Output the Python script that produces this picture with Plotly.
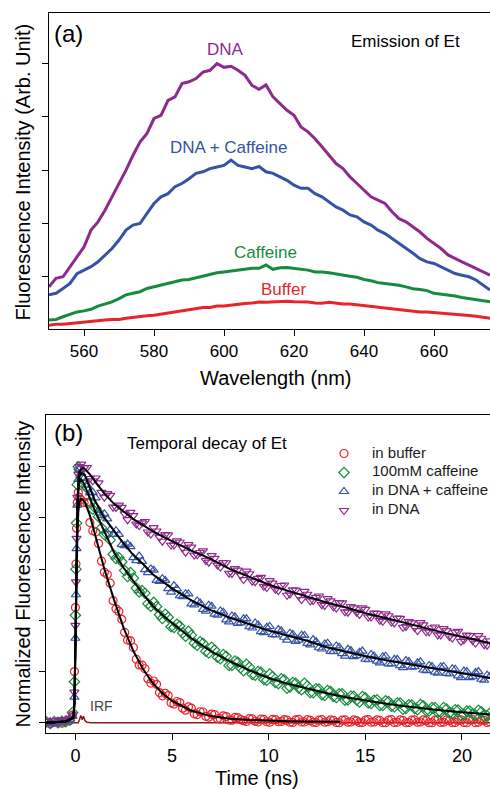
import plotly.graph_objects as go

# ---------------- (a) emission spectra ----------------
WL = list(range(550, 678, 2))  # nm
SPEC_DNA = [0.81, 0.97, 1.0, 1.19, 1.375, 1.56, 1.875, 2.03, 2.25, 2.5, 2.72, 3.0, 3.28, 3.53,
            3.69, 3.97, 4.03, 4.31, 4.375, 4.625, 4.66, 4.72, 4.84, 4.875, 5.0, 4.93, 4.95, 4.875,
            4.78, 4.59, 4.52, 4.6, 4.375, 4.25, 4.125, 4.03, 3.81, 3.72, 3.59, 3.44, 3.28, 3.125,
            3.03, 2.875, 2.75, 2.625, 2.5, 2.44, 2.375, 2.22, 2.09, 2.03, 1.94, 1.84, 1.72, 1.625,
            1.53, 1.41, 1.34, 1.28, 1.22, 1.16, 1.09, 1.03]
SPEC_DNA_CAF = [0.66, 0.69, 0.78, 0.875, 1.06, 1.125, 1.19, 1.28, 1.41, 1.53, 1.69, 1.875, 1.97, 2.0,
                2.19, 2.375, 2.5, 2.56, 2.69, 2.75, 2.84, 2.94, 2.97, 3.03, 3.06, 3.09, 3.19, 3.09,
                3.06, 3.03, 3.07, 2.97, 2.94, 2.875, 2.81, 2.72, 2.66, 2.66, 2.56, 2.5, 2.41, 2.31,
                2.25, 2.16, 2.125, 2.03, 1.97, 1.875, 1.81, 1.72, 1.625, 1.53, 1.44, 1.34, 1.28, 1.25,
                1.19, 1.125, 1.06, 1.03, 1.0, 0.94, 0.84, 0.75]
SPEC_CAF = [0.19, 0.2, 0.25, 0.3, 0.34, 0.36, 0.39, 0.45, 0.49, 0.53, 0.59, 0.66, 0.69, 0.72,
            0.78, 0.81, 0.84, 0.875, 0.91, 0.94, 0.95, 0.98, 1.01, 1.05, 1.075, 1.09, 1.11, 1.125,
            1.15, 1.16, 1.16, 1.22, 1.14, 1.17, 1.175, 1.16, 1.15, 1.125, 1.09, 1.09, 1.075, 1.05,
            1.025, 1.01, 0.99, 0.95, 0.925, 0.89, 0.875, 0.86, 0.84, 0.81, 0.775, 0.76, 0.74, 0.69,
            0.675, 0.66, 0.64, 0.61, 0.59, 0.58, 0.56, 0.53]
SPEC_BUF = [0.09, 0.11, 0.11, 0.125, 0.14, 0.15, 0.16, 0.175, 0.19, 0.2, 0.2, 0.22, 0.24, 0.25,
            0.27, 0.28, 0.3, 0.325, 0.34, 0.36, 0.39, 0.41, 0.425, 0.425, 0.45, 0.45, 0.47, 0.49,
            0.5, 0.51, 0.525, 0.52, 0.525, 0.53, 0.54, 0.53, 0.53, 0.525, 0.51, 0.505, 0.52, 0.5,
            0.49, 0.49, 0.475, 0.46, 0.45, 0.44, 0.425, 0.41, 0.39, 0.375, 0.36, 0.34, 0.34, 0.33,
            0.325, 0.31, 0.3, 0.29, 0.275, 0.26, 0.24, 0.22]

# ---------------- (b) temporal decay ----------------
T_DATA = [-1.5, -1.3, -1.1, -0.9, -0.7, -0.5, -0.3, -0.15, -0.05, 0.0, 0.03, 0.06, 0.1, 0.15, 0.2, 0.3, 0.45,
          0.6, 0.9, 1.2, 1.5, 1.8, 2.1, 2.4, 2.7, 3.0, 3.3,
          3.6, 3.9, 4.2, 4.5, 4.8, 5.1, 5.4, 5.7, 6.0, 6.3,
          6.6, 6.9, 7.2, 7.5, 7.8, 8.1, 8.4, 8.7, 9.0, 9.3,
          9.6, 9.9, 10.2, 10.5, 10.8, 11.1, 11.4, 11.7, 12.0, 12.3,
          12.6, 12.9, 13.2, 13.5, 13.8, 14.1, 14.4, 14.7, 15.0, 15.3,
          15.6, 15.9, 16.2, 16.5, 16.8, 17.1, 17.4, 17.7, 18.0, 18.3,
          18.6, 18.9, 19.2, 19.5, 19.8, 20.1, 20.4, 20.7, 21.0, 21.3,
          # second interleaved sweep
          0.75, 1.05, 1.35, 1.65, 1.95, 2.25, 2.55, 2.85, 3.15, 3.45,
          3.75, 4.05, 4.35, 4.65, 4.95, 5.25, 5.55, 5.85, 6.15, 6.45,
          6.75, 7.05, 7.35, 7.65, 7.95, 8.25, 8.55, 8.85, 9.15, 9.45,
          9.75, 10.05, 10.35, 10.65, 10.95, 11.25, 11.55, 11.85, 12.15, 12.45,
          12.75, 13.05, 13.35, 13.65, 13.95, 14.25, 14.55, 14.85, 15.15, 15.45,
          15.75, 16.05, 16.35, 16.65, 16.95, 17.25, 17.55, 17.85, 18.15, 18.45,
          18.75, 19.05, 19.35, 19.65, 19.95, 20.25, 20.55, 20.85, 21.15, 21.45]
D_BUFFER = [0.004, -0.004, 0.002, 0.005, -0.002, 0.006, 0.008, 0.03, 0.2, 0.45, 0.62, 0.76, 0.86, 0.9, 0.88, 0.87, 0.86,
            0.86, 0.75, 0.70, 0.588, 0.545, 0.445, 0.404, 0.323, 0.294, 0.226,
            0.211, 0.155, 0.150, 0.105, 0.106, 0.073, 0.079, 0.049, 0.057, 0.032,
            0.042, 0.022, 0.032, 0.015, 0.024, 0.010, 0.020, 0.008, 0.016, 0.006,
            0.014, 0.004, 0.013, 0.004, 0.012, 0.002, 0.011, 0.003, 0.012, 0.002,
            0.010, 0.002, 0.011, 0.001, 0.010, 0.002, 0.011, 0.001, 0.010, 0.002,
            0.011, 0.000, 0.010, 0.001, 0.011, 0.000, 0.010, 0.002, 0.011, 0.000,
            0.010, 0.001, 0.011, 0.000, 0.010, 0.001, 0.011, 0.000, 0.010, 0.001,
            0.782, 0.745, 0.631, 0.579, 0.477, 0.435, 0.353, 0.320, 0.248, 0.225,
            0.172, 0.163, 0.118, 0.115, 0.078, 0.083, 0.057, 0.062, 0.035, 0.043,
            0.025, 0.034, 0.016, 0.027, 0.011, 0.021, 0.012, 0.005, 0.015, 0.003,
            0.013, 0.002, 0.012, 0.005, 0.010, 0.001, 0.013, 0.003, 0.009, 0.001,
            0.012, 0.004, 0.009, 0.000, 0.011, 0.003, 0.008, 0.001, 0.012, 0.003,
            0.009, 0.000, 0.012, 0.002, 0.009, 0.001, 0.011, 0.003, 0.008, 0.000,
            0.012, 0.002, 0.009, 0.001, 0.011, 0.000, 0.012, 0.002, 0.009, 0.003]
D_CAFFEINE = [0.003, -0.003, 0.005, 0.0, 0.006, 0.004, 0.01, 0.04, 0.16, 0.42, 0.6, 0.78, 0.93, 1.0, 0.99, 0.96, 0.93,
              0.917, 0.834, 0.805, 0.735, 0.714, 0.642, 0.629, 0.571, 0.565, 0.511,
              0.506, 0.455, 0.454, 0.407, 0.412, 0.372, 0.378, 0.338, 0.342, 0.303,
              0.310, 0.273, 0.284, 0.250, 0.260, 0.224, 0.236, 0.203, 0.217, 0.186,
              0.197, 0.166, 0.180, 0.153, 0.168, 0.140, 0.154, 0.129, 0.143, 0.117,
              0.132, 0.107, 0.122, 0.099, 0.113, 0.089, 0.103, 0.081, 0.097, 0.075,
              0.090, 0.068, 0.083, 0.062, 0.077, 0.056, 0.069, 0.051, 0.066, 0.046,
              0.059, 0.041, 0.054, 0.036, 0.050, 0.032, 0.046, 0.029, 0.043, 0.027,
              0.862, 0.838, 0.761, 0.736, 0.658, 0.645, 0.595, 0.587, 0.526, 0.516,
              0.465, 0.470, 0.422, 0.424, 0.375, 0.385, 0.351, 0.357, 0.311, 0.316,
              0.279, 0.295, 0.256, 0.266, 0.224, 0.241, 0.215, 0.228, 0.189, 0.200,
              0.169, 0.190, 0.157, 0.172, 0.135, 0.157, 0.136, 0.154, 0.118, 0.133,
              0.110, 0.126, 0.103, 0.113, 0.088, 0.104, 0.089, 0.102, 0.077, 0.088,
              0.068, 0.086, 0.065, 0.077, 0.053, 0.070, 0.056, 0.071, 0.047, 0.059,
              0.040, 0.059, 0.038, 0.051, 0.028, 0.046, 0.034, 0.049, 0.026, 0.038]
D_DNA_CAF = [0.0, 0.004, -0.004, 0.006, 0.002, 0.008, 0.012, 0.025, 0.1, 0.33, 0.5, 0.68, 0.85, 0.95, 0.99, 0.975, 0.955,
             0.928, 0.900, 0.830, 0.816, 0.754, 0.750, 0.696, 0.698, 0.645, 0.651,
             0.598, 0.601, 0.556, 0.563, 0.524, 0.536, 0.496, 0.504, 0.464, 0.476,
             0.443, 0.459, 0.424, 0.437, 0.402, 0.417, 0.388, 0.406, 0.375, 0.390,
             0.356, 0.373, 0.344, 0.364, 0.334, 0.350, 0.318, 0.342, 0.310, 0.325,
             0.293, 0.308, 0.279, 0.300, 0.270, 0.287, 0.258, 0.275, 0.248, 0.267,
             0.241, 0.258, 0.230, 0.248, 0.223, 0.243, 0.217, 0.234, 0.206, 0.224,
             0.198, 0.218, 0.193, 0.211, 0.183, 0.202, 0.176, 0.196, 0.170, 0.186,
             0.898, 0.878, 0.810, 0.796, 0.736, 0.736, 0.692, 0.688, 0.633, 0.630,
             0.586, 0.596, 0.552, 0.556, 0.510, 0.523, 0.493, 0.503, 0.460, 0.468,
             0.436, 0.455, 0.420, 0.432, 0.394, 0.414, 0.390, 0.406, 0.370, 0.382,
             0.352, 0.376, 0.343, 0.359, 0.323, 0.345, 0.323, 0.341, 0.304, 0.317,
             0.288, 0.311, 0.278, 0.295, 0.260, 0.282, 0.262, 0.280, 0.246, 0.261,
             0.234, 0.260, 0.230, 0.248, 0.215, 0.239, 0.219, 0.238, 0.204, 0.220,
             0.194, 0.220, 0.191, 0.209, 0.176, 0.200, 0.180, 0.200, 0.166, 0.182]
D_DNA = [0.005, -0.005, 0.008, 0.0, 0.01, 0.012, 0.018, 0.03, 0.12, 0.38, 0.55, 0.72, 0.88, 0.97, 1.0, 1.01, 0.995,
         0.997, 0.945, 0.937, 0.881, 0.888, 0.841, 0.841, 0.793, 0.809, 0.770,
         0.786, 0.737, 0.749, 0.709, 0.734, 0.694, 0.705, 0.666, 0.686, 0.656,
         0.671, 0.627, 0.642, 0.608, 0.625, 0.583, 0.596, 0.559, 0.582, 0.551,
         0.568, 0.528, 0.545, 0.516, 0.538, 0.503, 0.518, 0.481, 0.502, 0.477,
         0.495, 0.458, 0.476, 0.448, 0.468, 0.432, 0.449, 0.423, 0.443, 0.413,
         0.427, 0.396, 0.418, 0.390, 0.408, 0.376, 0.390, 0.360, 0.382, 0.355,
         0.374, 0.343, 0.360, 0.331, 0.357, 0.324, 0.340, 0.311, 0.330, 0.303,
         0.954, 0.956, 0.900, 0.895, 0.842, 0.850, 0.816, 0.822, 0.776, 0.781,
         0.745, 0.762, 0.725, 0.735, 0.694, 0.710, 0.683, 0.696, 0.655, 0.665,
         0.634, 0.653, 0.616, 0.626, 0.584, 0.602, 0.577, 0.592, 0.553, 0.564,
         0.533, 0.555, 0.521, 0.536, 0.498, 0.519, 0.496, 0.513, 0.476, 0.490,
         0.461, 0.485, 0.453, 0.469, 0.433, 0.454, 0.432, 0.449, 0.413, 0.428,
         0.400, 0.425, 0.393, 0.409, 0.373, 0.395, 0.373, 0.391, 0.355, 0.370,
         0.343, 0.368, 0.337, 0.354, 0.318, 0.342, 0.321, 0.340, 0.305, 0.320]

T_FIT = [-1.5, -0.5, -0.1, -0.05, 0.0, 0.05, 0.1, 0.15, 0.2, 0.3, 0.4, 0.5, 0.75, 1, 1.5, 2, 2.5, 3, 3.5, 4,
         4.5, 5, 6, 7, 8, 9, 10, 11, 12, 13, 14, 15, 16, 17, 18, 19, 20, 21, 21.5]
FIT_DNA = [0, 0.005, 0.02, 0.08, 0.3, 0.6, 0.85, 0.95, 0.98, 0.99, 0.995, 0.99, 0.97, 0.945, 0.895, 0.855,
           0.825, 0.795, 0.772, 0.748, 0.728, 0.71, 0.672, 0.64, 0.60, 0.57, 0.54, 0.515, 0.492, 0.47,
           0.45, 0.428, 0.41, 0.39, 0.37, 0.353, 0.336, 0.32, 0.311]
FIT_DNA_CAF = [0, 0.005, 0.02, 0.08, 0.3, 0.6, 0.82, 0.92, 0.96, 0.975, 0.972, 0.965, 0.92, 0.87, 0.80, 0.75,
               0.70, 0.655, 0.62, 0.58, 0.553, 0.525, 0.478, 0.44, 0.41, 0.385, 0.36, 0.34, 0.32, 0.295,
               0.277, 0.26, 0.245, 0.232, 0.218, 0.205, 0.193, 0.18, 0.174]
FIT_CAF = [0, 0.005, 0.02, 0.08, 0.3, 0.58, 0.8, 0.9, 0.94, 0.95, 0.94, 0.923, 0.875, 0.83, 0.747, 0.665,
           0.605, 0.553, 0.502, 0.457, 0.421, 0.39, 0.33, 0.28, 0.24, 0.205, 0.175, 0.152, 0.133, 0.115,
           0.1, 0.087, 0.075, 0.065, 0.056, 0.048, 0.041, 0.035, 0.032]
T_FIT_BUF = [-1.5, -0.5, -0.1, -0.05, 0.0, 0.05, 0.1, 0.15, 0.2, 0.3, 0.4, 0.5, 0.75, 1, 1.5, 2, 2.5, 3, 3.5,
             4, 4.5, 5, 6, 7, 8, 9, 10, 11, 12, 13, 13.7]
FIT_BUF = [0, 0.005, 0.02, 0.07, 0.28, 0.55, 0.72, 0.82, 0.86, 0.875, 0.87, 0.86, 0.81, 0.74, 0.60, 0.48,
           0.37, 0.28, 0.21, 0.155, 0.115, 0.085, 0.047, 0.026, 0.016, 0.011, 0.008, 0.006, 0.005, 0.004, 0.004]

T_IRF = [-1.5, 0.15, 0.22, 0.28, 0.35, 0.42, 0.5, 0.6, 0.8, 21.5]
IRF = [0, 0, 0.015, 0.028, 0.012, 0.025, 0.008, 0.002, 0, 0]

LEGEND_LABELS = ["in buffer", "100mM caffeine", "in DNA + caffeine", "in DNA"]

PURPLE = "#8e2a8c"
BLUE = "#3553a6"
GREEN = "#178a40"
RED = "#e8232a"

W, H = 490, 789
ML, MR, MT, MB = 46, 0, 13, 56
PW = W - ML - MR
PH = H - MT - MB


def px(x):
    return (x - ML) / PW


def py(y):
    return (H - MB - y) / PH


fig = go.Figure()

# top panel
for y, c in [(SPEC_BUF, RED), (SPEC_CAF, GREEN), (SPEC_DNA_CAF, BLUE), (SPEC_DNA, PURPLE)]:
    fig.add_trace(go.Scatter(x=WL, y=y, mode="lines", line=dict(color=c, width=3),
                             showlegend=False, xaxis="x", yaxis="y"))

# bottom panel
fig.add_trace(go.Scatter(x=T_IRF, y=IRF, mode="lines", line=dict(color="#8b1c1c", width=1.5),
                         showlegend=False, xaxis="x2", yaxis="y2"))
for y, c, sym in [(D_BUFFER, RED, "circle-open"),
                  (D_CAFFEINE, GREEN, "diamond-open"),
                  (D_DNA_CAF, BLUE, "triangle-up-open"),
                  (D_DNA, PURPLE, "triangle-down-open")]:
    fig.add_trace(go.Scatter(x=T_DATA, y=y, mode="markers", name="",
                             marker=dict(symbol=sym, size=8, color=c, line=dict(width=1.2, color=c)),
                             xaxis="x2", yaxis="y2"))
for tx, y in [(T_FIT_BUF, FIT_BUF), (T_FIT, FIT_CAF), (T_FIT, FIT_DNA_CAF), (T_FIT, FIT_DNA)]:
    fig.add_trace(go.Scatter(x=tx, y=y, mode="lines", line=dict(color="black", width=2),
                             showlegend=False, xaxis="x2", yaxis="y2"))

FONT = "Liberation Sans, Arial, sans-serif"
axis_common = dict(showline=True, linecolor="black", linewidth=1.3, ticks="outside", ticklen=6,
                   tickwidth=1.2, tickcolor="black", showgrid=False, zeroline=False)

fig.update_layout(
    width=W, height=H,
    margin=dict(l=ML, r=MR, t=MT, b=MB),
    paper_bgcolor="white", plot_bgcolor="white",
    font=dict(family=FONT, color="black"),
    showlegend=True,
    xaxis=dict(domain=[px(49), 1], range=[550, 676], anchor="y", mirror=True,
               tickvals=[560, 580, 600, 620, 640, 660], tickfont=dict(size=17), **axis_common),
    yaxis=dict(domain=[py(329), py(13)], range=[0.02, 5.95], anchor="x",
               tickvals=[1, 2, 3, 4, 5], showticklabels=False, **axis_common),
    xaxis2=dict(domain=[0, 1], range=[-1.52, 21.45], anchor="y2", mirror=True,
                tickvals=[0, 5, 10, 15, 20], tickfont=dict(size=18), **axis_common),
    yaxis2=dict(domain=[0, py(415)], range=[-0.04, 1.202], anchor="x2",
                tickvals=[0, 0.2, 0.4, 0.6, 0.8, 1.0], showticklabels=False, **axis_common),
    legend=dict(x=px(324), y=py(439), xanchor="left", yanchor="top", bgcolor="rgba(0,0,0,0)",
                font=dict(size=12, color="#1a1a1a"), tracegroupgap=0),
)


def note(text, x, y, size, color="black", xanchor="center", angle=0):
    fig.add_annotation(text=text, x=px(x), y=py(y), xref="paper", yref="paper", showarrow=False,
                       xanchor=xanchor, yanchor="middle", textangle=angle,
                       font=dict(size=size, color=color, family=FONT))


note("Fluorescence Intensity (Arb. Unit)", 22.5, 172, 20, angle=-90)
note("Normalized Fluorescence Intensity", 22.5, 574, 20, angle=-90)
note("Wavelength (nm)", 276, 378, 20)
note("Time (ns)", 257, 778, 20)
note("(a)", 52, 33, 24, xanchor="left")
note("(b)", 52, 433, 24, xanchor="left")
note("Emission of Et", 405, 42, 17)
note("Temporal decay of Et", 207, 443, 17)
note("DNA", 225, 49, 17, PURPLE)
note("DNA + Caffeine", 228, 147, 17, BLUE)
note("Caffeine", 265, 252, 17, GREEN)
note("Buffer", 283, 289, 17, RED)
note("IRF", 88, 706, 14, "#444444", xanchor="left")
for i, lab in enumerate(LEGEND_LABELS):
    note(lab, 370, 452 + 18.7 * i, 15, "#1a1a1a", xanchor="left")

fig.write_html("out.html")
